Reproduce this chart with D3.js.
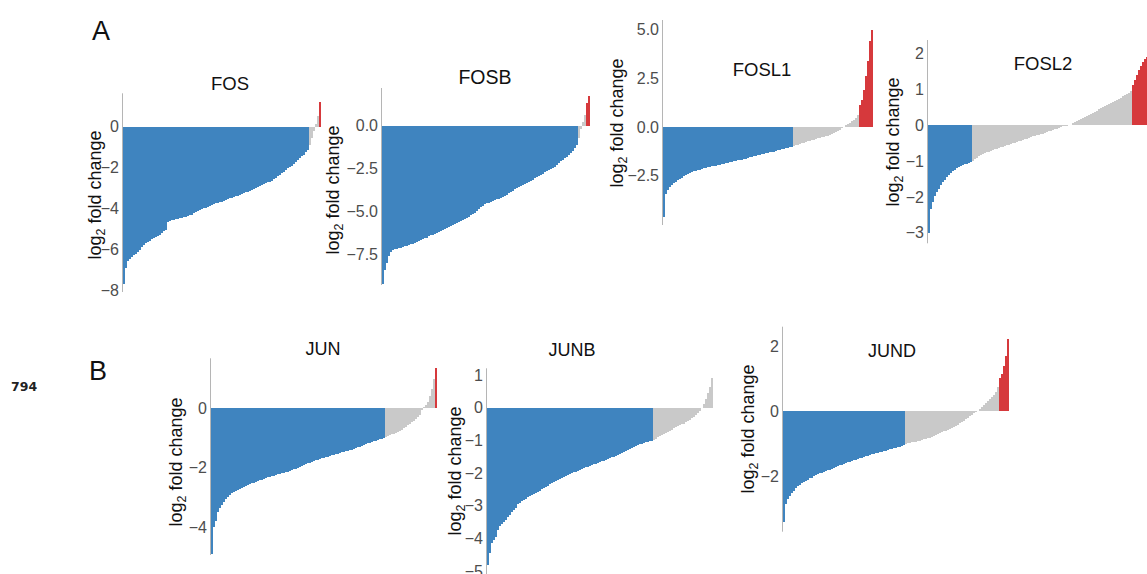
<!DOCTYPE html>
<html>
<head>
<meta charset="utf-8">
<script src="https://cdn.jsdelivr.net/npm/d3@7"></script>
<style>
  html, body { margin: 0; padding: 0; background: #fff; }
  svg { display: block; }
</style>
</head>
<body>
<svg id="fig" width="1147" height="574"></svg>
<script>
// Sorted log2 fold changes of target genes after knockdown of each AP-1 subunit
const panelNames = ["FOS", "FOSB", "FOSL1", "FOSL2", "JUN", "JUNB", "JUND"];

const fosValues = [
  -7.7, -6.9, -6.6, -6.5, -6.4, -6.3, -6.25, -6.15, -6.05, -5.9,
  -5.8, -5.72, -5.64, -5.58, -5.52, -5.47, -5.42, -5.36, -5.3, -5.22,
  -5.12, -5.07, -4.68, -4.62, -4.58, -4.55, -4.53, -4.51, -4.49, -4.47,
  -4.44, -4.41, -4.38, -4.35, -4.31, -4.25, -4.2, -4.14, -4.08, -4.03,
  -3.99, -3.96, -3.92, -3.89, -3.85, -3.8, -3.76, -3.73, -3.7, -3.67,
  -3.62, -3.58, -3.54, -3.51, -3.47, -3.44, -3.4, -3.37, -3.33, -3.3,
  -3.26, -3.22, -3.19, -3.14, -3.09, -3.05, -3.0, -2.95, -2.9, -2.86,
  -2.8, -2.76, -2.73, -2.7, -2.64, -2.57, -2.49, -2.42, -2.35, -2.27,
  -2.2, -2.12, -2.04, -1.97, -1.9, -1.83, -1.75, -1.65, -1.55, -1.45,
  -1.36, -1.25, -1.12, -0.9, -0.55, -0.2, 0.15, 0.55, 1.22
];

const fosbValues = [
  -9.2, -8.4, -8.0, -7.6, -7.35, -7.22, -7.18, -7.15, -7.13, -7.1,
  -7.06, -7.02, -6.98, -6.94, -6.9, -6.85, -6.8, -6.76, -6.71, -6.66,
  -6.6, -6.55, -6.5, -6.44, -6.38, -6.33, -6.27, -6.22, -6.16, -6.1,
  -6.04, -5.98, -5.93, -5.87, -5.82, -5.76, -5.7, -5.65, -5.6, -5.55,
  -5.48, -5.41, -5.34, -5.28, -5.22, -5.15, -5.08, -4.98, -4.85, -4.72,
  -4.65, -4.58, -4.52, -4.47, -4.42, -4.37, -4.32, -4.28, -4.24, -4.2,
  -4.14, -4.07, -4.0, -3.92, -3.84, -3.77, -3.7, -3.63, -3.57, -3.52,
  -3.45, -3.38, -3.32, -3.26, -3.2, -3.13, -3.06, -3.0, -2.93, -2.86,
  -2.79, -2.72, -2.65, -2.58, -2.52, -2.46, -2.38, -2.28, -2.17, -2.08,
  -2.0, -1.9, -1.8, -1.7, -1.6, -1.45, -1.3, -1.12, -0.7, -0.2,
  0.2, 0.6, 1.3, 1.7
];

const fosl1Values = [
  -4.6, -3.45, -3.22, -3.1, -2.99, -2.9, -2.82, -2.74, -2.67, -2.6,
  -2.53, -2.48, -2.43, -2.37, -2.32, -2.28, -2.25, -2.22, -2.19, -2.16,
  -2.13, -2.1, -2.07, -2.04, -2.02, -2.0, -1.98, -1.96, -1.93, -1.91,
  -1.88, -1.86, -1.84, -1.81, -1.79, -1.77, -1.75, -1.72, -1.7, -1.67,
  -1.64, -1.62, -1.59, -1.56, -1.53, -1.5, -1.48, -1.45, -1.43, -1.4,
  -1.38, -1.35, -1.33, -1.3, -1.28, -1.26, -1.23, -1.2, -1.18, -1.15,
  -1.12, -1.09, -1.07, -1.05, -1.02, -0.99, -0.95, -0.91, -0.88, -0.84,
  -0.81, -0.78, -0.74, -0.71, -0.68, -0.65, -0.62, -0.59, -0.56, -0.53,
  -0.5, -0.47, -0.44, -0.41, -0.37, -0.32, -0.27, -0.2, -0.13, -0.06,
  0.02, 0.08, 0.15, 0.22, 0.29, 0.37, 0.46, 0.6, 1.15, 1.4,
  1.9, 2.6, 3.4, 4.4, 5.0
];

const fosl2Values = [
  -3.0, -2.35, -2.15, -1.98, -1.87, -1.77, -1.68, -1.6, -1.52, -1.45,
  -1.39, -1.34, -1.29, -1.25, -1.21, -1.18, -1.15, -1.12, -1.1, -1.08,
  -1.06, -1.03, -0.99, -0.95, -0.91, -0.87, -0.84, -0.81, -0.78, -0.76,
  -0.74, -0.72, -0.7, -0.68, -0.66, -0.64, -0.62, -0.6, -0.58, -0.56,
  -0.55, -0.53, -0.51, -0.5, -0.48, -0.46, -0.44, -0.42, -0.4, -0.38,
  -0.36, -0.34, -0.32, -0.31, -0.29, -0.27, -0.26, -0.24, -0.22, -0.2,
  -0.18, -0.16, -0.14, -0.12, -0.1, -0.08, -0.06, -0.04, -0.03, -0.02,
  -0.01, 0.01, 0.04, 0.07, 0.1, 0.13, 0.16, 0.19, 0.22, 0.25,
  0.28, 0.31, 0.34, 0.37, 0.4, 0.43, 0.46, 0.49, 0.52, 0.55,
  0.58, 0.61, 0.64, 0.67, 0.7, 0.73, 0.76, 0.79, 0.82, 0.86,
  0.9, 0.95, 1.1, 1.25, 1.38, 1.52, 1.65, 1.74, 1.83, 1.9,
  1.95
];

const junValues = [
  -4.9, -4.0, -3.8, -3.5, -3.36, -3.25, -3.16, -3.07, -2.98, -2.91,
  -2.85, -2.81, -2.78, -2.74, -2.71, -2.67, -2.64, -2.61, -2.58, -2.55,
  -2.53, -2.5, -2.48, -2.45, -2.43, -2.41, -2.38, -2.36, -2.33, -2.31,
  -2.29, -2.27, -2.25, -2.23, -2.21, -2.19, -2.17, -2.15, -2.13, -2.11,
  -2.08, -2.06, -2.03, -2.0, -1.98, -1.95, -1.92, -1.89, -1.86, -1.83,
  -1.8, -1.77, -1.75, -1.73, -1.71, -1.69, -1.67, -1.65, -1.63, -1.61,
  -1.59, -1.57, -1.55, -1.53, -1.51, -1.49, -1.47, -1.45, -1.43, -1.41,
  -1.39, -1.37, -1.35, -1.32, -1.29, -1.26, -1.23, -1.2, -1.18, -1.16,
  -1.13, -1.11, -1.09, -1.07, -1.05, -1.03, -1.01, -0.96, -0.93, -0.91,
  -0.88, -0.86, -0.84, -0.81, -0.77, -0.72, -0.68, -0.63, -0.58, -0.53,
  -0.48, -0.42, -0.36, -0.3, -0.22, -0.05, 0.03, 0.1, 0.2, 0.4,
  0.65, 0.98, 1.35
];

const junbValues = [
  -4.8, -4.45, -4.15, -4.05, -3.95, -3.75, -3.62, -3.56, -3.5, -3.42,
  -3.35, -3.28, -3.2, -3.14, -3.08, -2.95, -2.9, -2.86, -2.83, -2.78,
  -2.73, -2.69, -2.66, -2.63, -2.6, -2.57, -2.54, -2.5, -2.46, -2.42,
  -2.38, -2.34, -2.3, -2.27, -2.24, -2.21, -2.18, -2.15, -2.12, -2.09,
  -2.06, -2.03, -2.0, -1.98, -1.95, -1.92, -1.9, -1.87, -1.85, -1.82,
  -1.8, -1.77, -1.75, -1.73, -1.71, -1.68, -1.66, -1.64, -1.62, -1.59,
  -1.57, -1.55, -1.52, -1.5, -1.47, -1.44, -1.41, -1.38, -1.35, -1.32,
  -1.29, -1.26, -1.23, -1.2, -1.17, -1.15, -1.12, -1.1, -1.08, -1.06,
  -1.04, -1.03, -1.01, -0.98, -0.94, -0.9, -0.87, -0.84, -0.81, -0.78,
  -0.74, -0.7, -0.67, -0.63, -0.6, -0.57, -0.54, -0.51, -0.48, -0.44,
  -0.4, -0.36, -0.32, -0.28, -0.23, -0.16, -0.09, -0.01, 0.12, 0.26,
  0.45, 0.65, 0.92
];

const jundValues = [
  -3.4, -2.85, -2.7, -2.6, -2.5, -2.43, -2.36, -2.29, -2.25, -2.21,
  -2.17, -2.13, -2.1, -2.06, -2.03, -1.99, -1.96, -1.92, -1.9, -1.88,
  -1.85, -1.83, -1.81, -1.79, -1.76, -1.74, -1.71, -1.69, -1.66, -1.64,
  -1.61, -1.59, -1.56, -1.54, -1.52, -1.5, -1.48, -1.46, -1.44, -1.42,
  -1.4, -1.38, -1.36, -1.34, -1.32, -1.3, -1.29, -1.27, -1.26, -1.25,
  -1.23, -1.21, -1.19, -1.17, -1.15, -1.14, -1.12, -1.11, -1.08, -1.06,
  -1.03, -0.99, -0.98, -0.96, -0.95, -0.94, -0.93, -0.92, -0.9, -0.88,
  -0.86, -0.84, -0.82, -0.81, -0.79, -0.77, -0.74, -0.71, -0.68, -0.65,
  -0.62, -0.6, -0.57, -0.54, -0.51, -0.47, -0.44, -0.41, -0.37, -0.33,
  -0.29, -0.25, -0.2, -0.15, -0.1, -0.06, -0.02, 0.02, 0.08, 0.14,
  0.2, 0.25, 0.3, 0.36, 0.43, 0.5, 0.6, 0.75, 1.02, 1.15,
  1.4, 1.7, 2.2
];

// Axis tick values per panel
const fosTicks   = [0, -2, -4, -6, -8];
const fosbTicks  = [0, -2.5, -5, -7.5];
const fosl1Ticks = [5, 2.5, 0, -2.5];
const fosl2Ticks = [2, 1, 0, -1, -2, -3];
const junTicks   = [0, -2, -4];
const junbTicks  = [1, 0, -1, -2, -3, -4, -5];
const jundTicks  = [2, 0, -2];

// Significance cut-off on |log2 fold change|
const cutoff = 1;
const colorDown = "#3f84bf";
const colorUp = "#d6393c";
const colorNs = "#c9c9c9";

// Placement of each panel on the page
const layout = [
  { x0: 123, barW: 2, yTop: 93.3,  yBot: 292,   lo: -8.1,  hi: 1.64, fmt: "d",   title: [230, 89.5, 18.5], label: [96, 195] },
  { x0: 382, barW: 2, yTop: 88,    yBot: 285,   lo: -9.26, hi: 2.19, fmt: ".1f", title: [485, 83.5, 19.5], label: [334, 190] },
  { x0: 663, barW: 2, yTop: 20,    yBot: 225,   lo: -5.03, hi: 5.49, fmt: ".1f", title: [762, 76, 18.5],   label: [618, 123] },
  { x0: 928, barW: 2, yTop: 40,    yBot: 243.3, lo: -3.29, hi: 2.36, fmt: "d",   title: [1043, 69.5, 18.5], label: [894, 142] },
  { x0: 211, barW: 2, yTop: 358.3, yBot: 555,   lo: -4.94, hi: 1.68, fmt: "d",   title: [323, 354.5, 18],  label: [177, 462] },
  { x0: 487, barW: 2, yTop: 368.3, yBot: 578,   lo: -5.21, hi: 1.21, fmt: "d",   title: [572, 356, 18],    label: [456, 471] },
  { x0: 783, barW: 2, yTop: 326.7, yBot: 531.7, lo: -3.69, hi: 2.59, fmt: "d",   title: [892, 356.5, 18],  label: [749, 429] }
];

const seriesList = [fosValues, fosbValues, fosl1Values, fosl2Values, junValues, junbValues, jundValues];
const tickList = [fosTicks, fosbTicks, fosl1Ticks, fosl2Ticks, junTicks, junbTicks, jundTicks];

const svg = d3.select("#fig");
const font = "'Liberation Sans', Arial, Helvetica, sans-serif";
const minus = s => s.replace("-", "\u2212");

seriesList.forEach((values, p) => {
  const L = layout[p];
  const g = svg.append("g");

  const x = d3.scaleBand()
    .domain(d3.range(values.length))
    .range([L.x0, L.x0 + values.length * L.barW])
    .paddingInner(0).paddingOuter(0);
  const y = d3.scaleLinear().domain([L.lo, L.hi]).range([L.yBot, L.yTop]);

  // one column per gene, pixel-aligned so adjacent columns form a solid area
  g.append("g")
    .attr("shape-rendering", "crispEdges")
    .selectAll("rect")
    .data(values)
    .join("rect")
    .attr("x", (d, i) => x(i))
    .attr("width", x.bandwidth())
    .attr("y", d => y(Math.max(0, d)))
    .attr("height", d => Math.abs(y(d) - y(0)))
    .attr("fill", d => d < -cutoff ? colorDown : d > cutoff ? colorUp : colorNs);

  // left axis: line only, labels without tick marks
  const axis = d3.axisLeft(y)
    .tickValues(tickList[p])
    .tickSize(0)
    .tickPadding(4)
    .tickFormat(d => minus(d3.format(L.fmt)(d)));
  const ax = g.append("g").attr("transform", `translate(${L.x0},0)`).call(axis);
  ax.select(".domain").attr("stroke", "#b5b5b5").attr("stroke-width", 1)
    .attr("d", `M-0.5,${L.yTop}V${L.yBot}`);
  ax.selectAll("text")
    .attr("fill", "#4d4d4d")
    .attr("font-size", 16)
    .attr("font-family", font);

  // panel title
  g.append("text")
    .attr("x", L.title[0]).attr("y", L.title[1])
    .attr("text-anchor", "middle")
    .attr("font-family", font)
    .attr("font-size", L.title[2])
    .attr("fill", "#111")
    .text(panelNames[p]);

  // y-axis title with subscript
  const yl = g.append("text")
    .attr("transform", `translate(${L.label[0]},${L.label[1]}) rotate(-90)`)
    .attr("text-anchor", "middle")
    .attr("dy", "0.3em")
    .attr("font-family", font)
    .attr("font-size", 18)
    .attr("fill", "#111");
  yl.append("tspan").text("log");
  yl.append("tspan").attr("font-size", 12.5).attr("dy", 4).text("2");
  yl.append("tspan").attr("dy", -4).text(" fold change");
});

// panel letters and page number
svg.append("text").attr("x", 92).attr("y", 40)
  .attr("font-family", font).attr("font-size", 27).attr("fill", "#111").text("A");
svg.append("text").attr("x", 89).attr("y", 379.5)
  .attr("font-family", font).attr("font-size", 27).attr("fill", "#111").text("B");
svg.append("text").attr("x", 11).attr("y", 391)
  .attr("font-family", "'DejaVu Sans', sans-serif").attr("font-weight", "bold")
  .attr("font-size", 12.5).attr("fill", "#222").text("794");
</script>
</body>
</html>
